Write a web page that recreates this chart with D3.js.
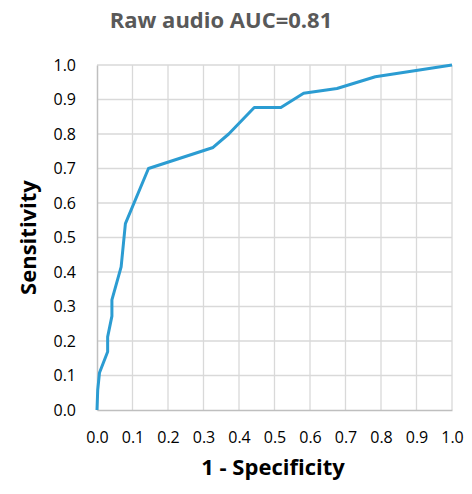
<!DOCTYPE html>
<html>
<head>
<meta charset="utf-8">
<script src="https://cdn.jsdelivr.net/npm/d3@7"></script>
<style>
  body { margin: 0; background: #fff; }
  text { font-family: "Open Sans", sans-serif; }
</style>
</head>
<body>
<div id="chart"></div>
<script>
const title = "Raw audio AUC=0.81"
const xLabel = "1 - Specificity"
const yLabel = "Sensitivity"

// ROC points
const fpr = [0, 0.002, 0.007, 0.03, 0.03, 0.042, 0.042, 0.068, 0.08, 0.145, 0.327, 0.371, 0.443, 0.518, 0.582, 0.676, 0.784, 1.0]
const tpr = [0, 0.058, 0.108, 0.169, 0.212, 0.272, 0.319, 0.415, 0.54, 0.70, 0.761, 0.80, 0.877, 0.877, 0.918, 0.932, 0.966, 1.0]
const ticks = [0, 0.1, 0.2, 0.3, 0.4, 0.5, 0.6, 0.7, 0.8, 0.9, 1.0]

const width = 472
const height = 494
const margin = { top: 65, right: 20, left: 97, bottom: 84 }
const innerW = 452 - margin.left
const innerH = 410 - margin.top

const svg = d3.select("div#chart").append("svg")
    .attr("width", width)
    .attr("height", height)

const g = svg.append("g")
    .attr("transform", `translate(${margin.left}, ${margin.top})`)

const x = d3.scaleLinear().domain([0, 1]).range([0, innerW])
const y = d3.scaleLinear().domain([0, 1]).range([innerH, 0])

// grid
g.append("g").selectAll("line.v")
    .data(ticks.slice(1))
    .enter().append("line")
    .attr("x1", d => x(d)).attr("x2", d => x(d))
    .attr("y1", 0).attr("y2", innerH)
    .attr("stroke", "#d9d9d9").attr("stroke-width", 1.3)
g.append("g").selectAll("line.h")
    .data(ticks.slice(1))
    .enter().append("line")
    .attr("x1", 0).attr("x2", innerW)
    .attr("y1", d => y(d)).attr("y2", d => y(d))
    .attr("stroke", "#d9d9d9").attr("stroke-width", 1.3)

const xAxis = d3.axisBottom(x).tickValues(ticks).tickFormat(d3.format(".1f")).tickSize(0).tickPadding(22)
const yAxis = d3.axisLeft(y).tickValues(ticks).tickFormat(d3.format(".1f")).tickSize(0).tickPadding(21)

const xg = g.append("g").attr("transform", `translate(0, ${innerH})`).call(xAxis)
const yg = g.append("g").call(yAxis)
;[xg, yg].forEach(a => {
    a.select(".domain").attr("stroke", "#bfbfbf").attr("stroke-width", 1.5)
    a.selectAll("text").attr("font-size", 16).attr("fill", "#000").attr("font-family", "Open Sans")
})

const pts = fpr.map((f, i) => ({ f: f, t: tpr[i] }))
const line = d3.line().x(d => x(d.f)).y(d => y(d.t))

g.append("path")
    .datum(pts)
    .attr("fill", "none")
    .attr("stroke", "#2b9cd2")
    .attr("stroke-width", 3)
    .attr("stroke-linejoin", "round")
    .attr("d", line)

svg.append("text")
    .attr("x", 221).attr("y", 28)
    .attr("text-anchor", "middle")
    .attr("font-size", 22).attr("font-weight", "bold").attr("fill", "#595959")
    .text(title)

svg.append("text")
    .attr("x", 273).attr("y", 475)
    .attr("text-anchor", "middle")
    .attr("font-size", 22).attr("font-weight", "bold").attr("fill", "#000")
    .text(xLabel)

svg.append("text")
    .attr("transform", `translate(36, ${margin.top + innerH / 2}) rotate(-90)`)
    .attr("text-anchor", "middle")
    .attr("font-size", 22).attr("font-weight", "bold").attr("fill", "#000")
    .text(yLabel)
</script>
</body>
</html>
